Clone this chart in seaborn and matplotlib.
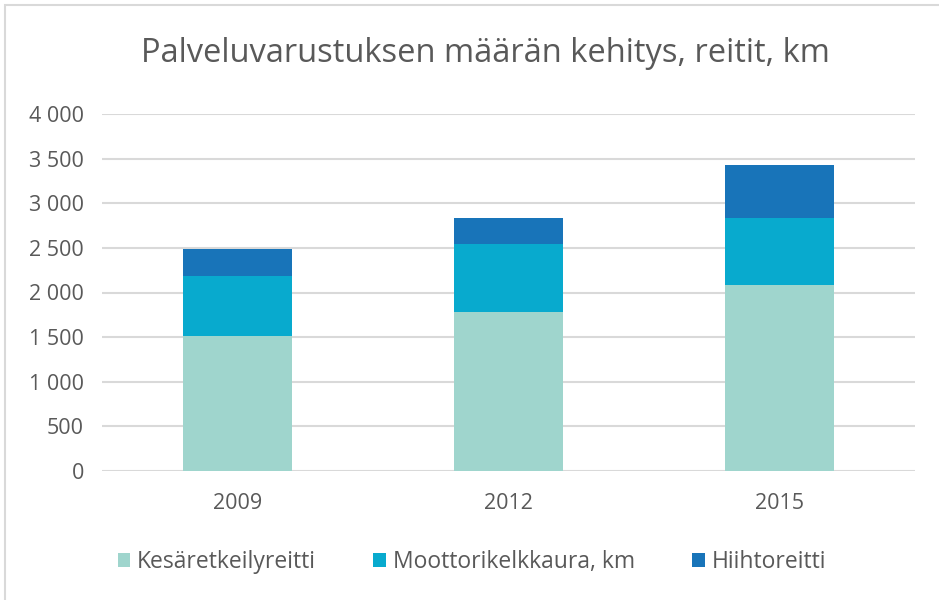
import pandas as pd
import matplotlib.pyplot as plt
import seaborn as sns
from matplotlib.patches import Rectangle, Patch
from matplotlib.ticker import FuncFormatter

years = ['2009', '2012', '2015']
kesa = [1510, 1780, 2080]
moottori = [670, 765, 754]
hiihto = [302, 289, 589]

series_names = ['Kesäretkeilyreitti', 'Moottorikelkkaura, km', 'Hiihtoreitti']
colors = ['#9fd5cd', '#08aace', '#1874b9']

df = pd.DataFrame({'vuosi': years, 'kesa': kesa, 'moottori': moottori, 'hiihto': hiihto})
df['c1'] = df['kesa']
df['c2'] = df['c1'] + df['moottori']
df['c3'] = df['c2'] + df['hiihto']

sns.set_style('white')
plt.rcParams['font.family'] = ['Open Sans', 'DejaVu Sans']

fig = plt.figure(figsize=(9.39, 6), dpi=100)
ax = fig.add_axes([102 / 939, 1 - 471 / 600, (915 - 102) / 939, (471 - 114) / 600])

# stacked bars: draw totals first, lower parts over them
for col, c in zip(['c3', 'c2', 'c1'], colors[::-1]):
    sns.barplot(data=df, x='vuosi', y=col, color=c, width=0.405, ax=ax,
                saturation=1, zorder=3, linewidth=0)

ax.set_ylim(0, 4000)
ax.set_xlim(-0.5, 2.5)
ax.set_yticks(range(0, 4001, 500))
ax.yaxis.set_major_formatter(FuncFormatter(lambda v, p: f'{int(v):,}'.replace(',', ' ')))
ax.grid(axis='y', color='#d9d9d9', linewidth=1.5, zorder=0)
ax.grid(axis='x', visible=False)
ax.set_axisbelow(True)
for s in ax.spines.values():
    s.set_visible(False)
ax.tick_params(axis='both', length=0, labelsize=15.5, colors='#595959')
ax.tick_params(axis='y', pad=13)
ax.tick_params(axis='x', pad=16)
ax.set_xlabel('')
ax.set_ylabel('')

fig.text(485 / 939, 1 - 54 / 600, 'Palveluvarustuksen määrän kehitys, reitit, km',
         ha='center', va='center', fontsize=23.5, color='#595959')

handles = [Patch(facecolor=c, edgecolor='none') for c in colors]
fig.legend(handles, series_names, loc='center', bbox_to_anchor=(472 / 939, 1 - 562 / 600),
           ncol=3, frameon=False, fontsize=16.5, labelcolor='#595959',
           handlelength=0.55, handleheight=0.55, handletextpad=0.3, columnspacing=2.5)

fig.patches.append(Rectangle((5 / 939, -0.1), 1.2, 1.1 - 5 / 600, transform=fig.transFigure,
                             fill=False, edgecolor='#d9d9d9', linewidth=1.5))

plt.savefig('out.png', dpi=100)
